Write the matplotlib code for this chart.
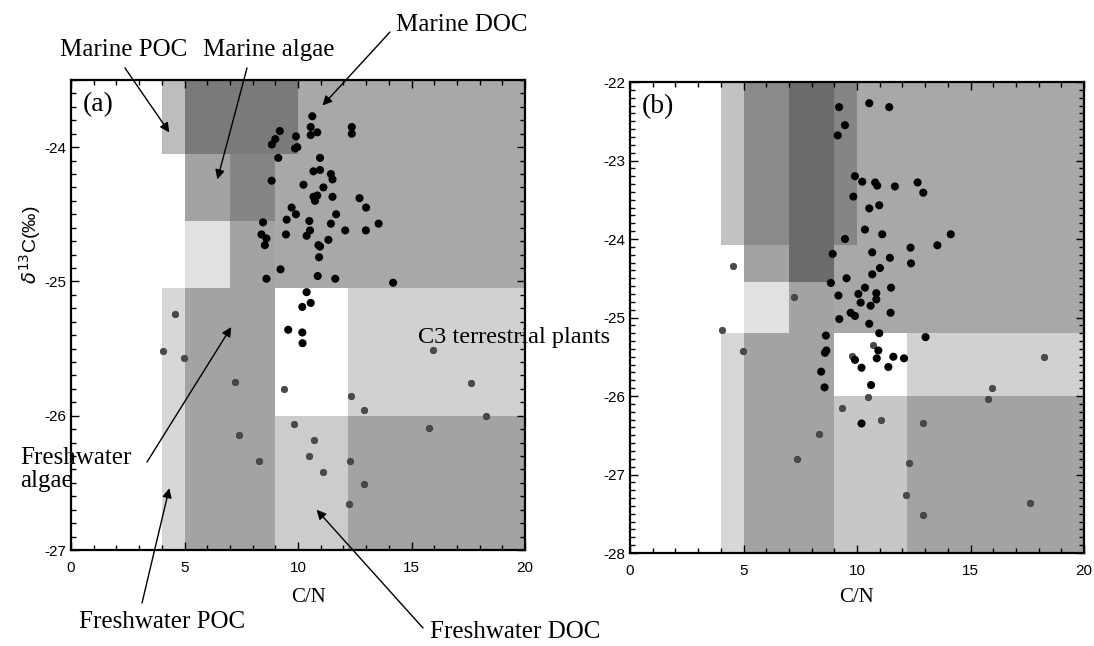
import matplotlib
matplotlib.use("Agg")
import matplotlib.pyplot as plt
from matplotlib.ticker import MultipleLocator
import numpy as np

plt.rcParams["axes.unicode_minus"] = False

# ---------------- data ----------------
# shaded end-member regions (cell grid: x edges, y edges, grey level per cell, rows bottom->top)
a_x_edges = [0, 4, 5, 7, 9, 10, 12.2, 20]
a_y_edges = [-27, -26, -25.05, -24.55, -24.05, -23.5]
a_grey = [
    [1.00, 0.84, 0.64, 0.64, 0.80, 0.80, 0.64],
    [1.00, 0.84, 0.64, 0.64, 1.00, 1.00, 0.82],
    [1.00, 1.00, 0.88, 0.64, 0.66, 0.66, 0.66],
    [1.00, 1.00, 0.64, 0.52, 0.66, 0.66, 0.66],
    [1.00, 0.74, 0.48, 0.48, 0.48, 0.66, 0.66],
]
b_x_edges = [0, 4, 5, 7, 9, 10, 12.2, 20]
b_y_edges = [-28, -26, -25.2, -24.55, -24.08, -22]
b_grey = [
    [1.00, 0.84, 0.64, 0.64, 0.78, 0.78, 0.64],
    [1.00, 0.84, 0.64, 0.64, 1.00, 1.00, 0.82],
    [1.00, 1.00, 0.88, 0.64, 0.66, 0.66, 0.66],
    [1.00, 1.00, 0.64, 0.42, 0.66, 0.66, 0.66],
    [1.00, 0.76, 0.54, 0.42, 0.52, 0.66, 0.66],
]

# panel (a) samples
a_black_cn = [10.63, 10.56, 10.85, 10.56, 12.37, 12.37, 9.2, 9.0, 8.85, 9.91, 9.97, 9.87,
              9.13, 10.97, 10.68, 10.97, 11.45, 11.52, 8.84, 10.24, 11.12, 10.68, 10.85,
              10.75, 11.52, 12.71, 13.0, 9.72, 9.91, 11.68, 9.5, 10.5, 11.45, 12.08, 12.99,
              13.55, 8.46, 8.39, 8.61, 8.54, 9.47, 10.38, 10.53, 10.9, 10.97, 11.34, 10.93,
              9.23, 10.87, 8.61, 11.64, 10.38, 14.19, 10.19, 10.56, 9.57, 10.19, 10.2]
a_black_d13c = [-23.77, -23.85, -23.89, -23.91, -23.85, -23.90, -23.88, -23.94, -23.98,
                -23.92, -24.0, -24.01, -24.08, -24.08, -24.18, -24.17, -24.2, -24.24,
                -24.25, -24.28, -24.3, -24.37, -24.36, -24.4, -24.37, -24.38, -24.45,
                -24.45, -24.5, -24.5, -24.54, -24.55, -24.57, -24.62, -24.62, -24.57,
                -24.56, -24.65, -24.68, -24.73, -24.65, -24.66, -24.62, -24.73, -24.74,
                -24.69, -24.82, -24.91, -24.96, -24.98, -24.98, -25.08, -25.01, -25.19,
                -25.16, -25.36, -25.38, -25.46]
a_grey_cn = [4.56, 4.07, 4.96, 7.24, 9.37, 12.34, 12.9, 9.84, 7.39, 10.71, 8.29, 10.5,
             11.09, 12.3, 12.89, 12.23, 15.96, 17.62, 18.27, 15.77]
a_grey_d13c = [-25.24, -25.52, -25.57, -25.75, -25.80, -25.85, -25.96, -26.06, -26.14,
               -26.18, -26.34, -26.3, -26.42, -26.34, -26.51, -26.66, -25.51, -25.76,
               -26.0, -26.09]

# panel (b) samples
b_black_cn = [9.21, 9.47, 9.15, 10.54, 11.42, 9.91, 10.23, 10.89, 10.8, 11.67, 12.67, 12.92,
              9.84, 10.54, 10.98, 10.35, 11.11, 9.47, 14.13, 13.54, 12.36, 10.67, 11.45,
              12.38, 11.01, 8.93, 9.54, 10.67, 8.85, 9.18, 10.35, 11.50, 10.06, 10.85,
              10.85, 10.16, 10.6, 9.72, 9.91, 11.48, 9.22, 10.54, 10.98, 13.02, 8.63, 8.59,
              8.65, 10.94, 10.87, 11.6, 12.07, 9.91, 10.2, 11.38, 8.42, 8.57, 10.62, 10.2]
b_black_d13c = [-22.32, -22.55, -22.68, -22.27, -22.32, -23.2, -23.27, -23.32, -23.28,
                -23.33, -23.28, -23.41, -23.46, -23.61, -23.57, -23.88, -23.94, -24.0,
                -23.94, -24.08, -24.11, -24.17, -24.24, -24.31, -24.37, -24.19, -24.5,
                -24.45, -24.56, -24.72, -24.62, -24.62, -24.7, -24.69, -24.77, -24.81,
                -24.85, -24.94, -24.98, -24.94, -25.02, -25.08, -25.2, -25.25, -25.23,
                -25.45, -25.42, -25.42, -25.52, -25.5, -25.52, -25.54, -25.64, -25.63,
                -25.69, -25.89, -25.86, -26.35]
b_grey_cn = [4.55, 7.24, 4.07, 4.96, 9.79, 10.69, 18.24, 15.96, 15.76, 10.49, 9.35, 11.06,
             12.90, 8.33, 7.37, 12.28, 12.17, 12.9, 17.62]
b_grey_d13c = [-24.34, -24.74, -25.16, -25.43, -25.49, -25.35, -25.5, -25.9, -26.04, -26.01,
               -26.15, -26.3, -26.35, -26.48, -26.8, -26.85, -27.26, -27.51, -27.36]

a_yticks = [-24, -25, -26, -27]
b_yticks = [-22, -23, -24, -25, -26, -27, -28]
x_ticks = [0, 5, 10, 15, 20]

SERIF = ["Liberation Serif", "DejaVu Serif"]
SANS = ["Liberation Sans", "DejaVu Sans"]

W, H = 1094, 646
fig = plt.figure(figsize=(W / 100, H / 100), dpi=100)

def fx(px):
    return px / W

def fy(py):
    return 1 - py / H

ax_a = fig.add_axes([fx(71), fy(550), 454 / W, 470 / H])
ax_b = fig.add_axes([fx(630), fy(553), 454 / W, 471 / H])


def draw_panel(ax, xe, ye, grey, bcn, bd, gcn, gd, ylim, yticks, tag):
    ax.pcolormesh(xe, ye, np.array(grey), cmap="gray", vmin=0, vmax=1,
                  shading="flat", zorder=0, rasterized=True)
    ax.scatter(gcn, gd, s=22, c="#4a4a4a", edgecolors="#2a2a2a", linewidths=0.4, zorder=3)
    ax.scatter(bcn, bd, s=34, c="black", edgecolors="none", zorder=4)
    ax.set_xlim(0, 20)
    ax.set_ylim(*ylim)
    ax.set_xticks(x_ticks)
    ax.set_yticks(yticks)
    ax.xaxis.set_minor_locator(MultipleLocator(1))
    ax.yaxis.set_minor_locator(MultipleLocator(0.1))
    ax.tick_params(which="both", direction="in", top=True, right=True, width=1.0,
                   labelsize=11, colors="black")
    ax.tick_params(which="major", length=6)
    ax.tick_params(which="minor", length=3.5)
    for lab in ax.get_xticklabels() + ax.get_yticklabels():
        lab.set_family(SANS)
    ax.tick_params(axis="x", pad=8)
    for s in ax.spines.values():
        s.set_linewidth(1.6)
    ax.text(0.025, 0.975, tag, transform=ax.transAxes, ha="left", va="top",
            fontsize=20, family=SERIF, zorder=6)


draw_panel(ax_a, a_x_edges, a_y_edges, a_grey, a_black_cn, a_black_d13c,
           a_grey_cn, a_grey_d13c, (-27, -23.5), a_yticks, "(a)")
draw_panel(ax_b, b_x_edges, b_y_edges, b_grey, b_black_cn, b_black_d13c,
           b_grey_cn, b_grey_d13c, (-28, -22), b_yticks, "(b)")

# axis titles
fig.text(fx(309), fy(597), "C/N", ha="center", va="center", fontsize=15, family=SERIF)
fig.text(fx(857), fy(597), "C/N", ha="center", va="center", fontsize=15, family=SERIF)
fig.text(fx(30), fy(245), r"$\delta^{13}$C(‰)", rotation=90, ha="center", va="center",
         fontsize=14, family=SANS)

# labels with arrows (tail in figure pixels, head in data coords of panel a)
def label_arrow(text, tx, ty, tail, head, ha="left", size=18):
    fig.text(fx(tx), fy(ty), text, ha=ha, va="center", fontsize=size, family=SERIF, zorder=10)
    if tail is not None:
        ax_a.annotate("", xy=head, xycoords="data",
                      xytext=(tail[0], H - tail[1]), textcoords="figure pixels",
                      arrowprops=dict(arrowstyle="-|>", lw=1.0, color="black",
                                      mutation_scale=14, shrinkA=0, shrinkB=0),
                      annotation_clip=False, zorder=9)

label_arrow("Marine DOC", 462, 25, (390, 32), (11.08, -23.69), ha="center")
label_arrow("Marine POC", 124, 50, (125, 68), (4.33, -23.89), ha="center")
label_arrow("Marine algae", 269, 50, (247, 68), (6.45, -24.24), ha="center")
label_arrow("C3 terrestrial plants", 418, 337, None, None, size=17.5)
label_arrow("Freshwater", 20, 458, (147, 462), (7.06, -25.34))
label_arrow("algae", 20, 481, None, None)
label_arrow("Freshwater POC", 79, 622, (142, 603), (4.33, -26.54))
label_arrow("Freshwater DOC", 430, 632, (423, 628), (10.82, -26.70))

fig.savefig("out.png", dpi=100)
